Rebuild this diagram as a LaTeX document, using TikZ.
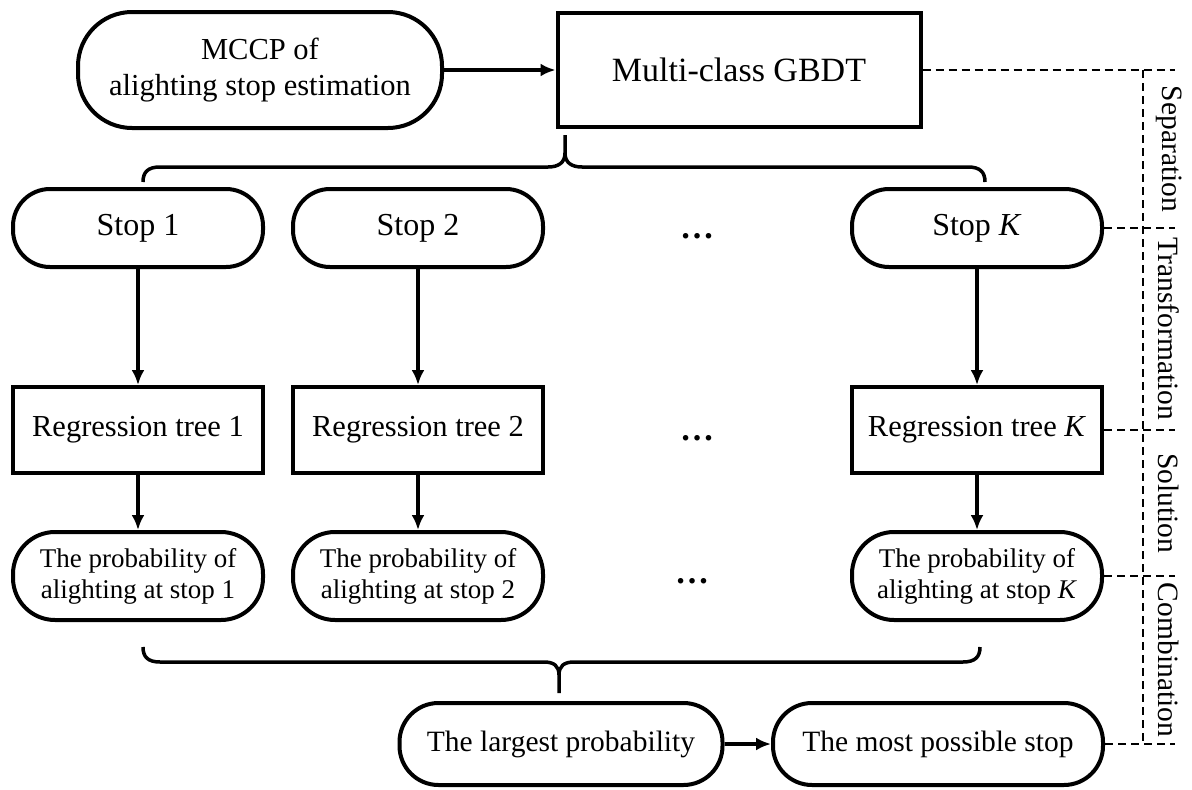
\documentclass[tikz,border=0pt]{standalone}
\usepackage{fontspec}
\setmainfont{Liberation Serif}
\usetikzlibrary{arrows.meta,calc}

\begin{document}
\begin{tikzpicture}[x=1pt,y=-1pt,
  box/.style={draw, line width=4pt, align=center},
  pill/.style={box, rounded corners=#1},
  pill/.default=37pt,
  arr/.style={line width=3.5pt, -{Latex[length=15pt,width=13pt]}},
  sep/.style={line width=2.2pt, dash pattern=on 8pt off 5pt},
  brc/.style={line width=3.5pt},
  phase/.style={rotate=-90, font=\fontsize{29.5}{33}\selectfont}]

\useasboundingbox (0,0) rectangle (1192,790);

\def\xone{138}
\def\xtwo{418}
\def\xk{977}

% top row
\node[pill=54pt, minimum width=364pt, minimum height=116pt,
      font=\fontsize{30.5}{36}\selectfont] (mccp) at (260,70)
      {MCCP of\\alighting stop estimation};
\node[box, minimum width=363pt, minimum height=114pt,
      font=\fontsize{34}{38}\selectfont] (gbdt) at (739,70) {Multi-class GBDT};
\draw[arr] (mccp) -- (gbdt);

% stops
\foreach \n/\x/\t in {1/\xone/1, 2/\xtwo/2, K/\xk/\textit{K}}{
  \node[pill, minimum width=250pt, minimum height=78pt,
        font=\fontsize{32}{36}\selectfont] (s\n) at (\x,228) {Stop \t};
  \node[box, minimum width=250pt, minimum height=86pt,
        font=\fontsize{30.5}{34}\selectfont] (t\n) at (\x,430) {Regression tree \t};
  \node[pill=42pt, minimum width=250pt, minimum height=88pt,
        font=\fontsize{27}{31}\selectfont] (p\n) at (\x,576)
        {The probability of\\alighting at stop \t};
  \draw[arr] (s\n) -- (t\n);
  \draw[arr] (t\n) -- (p\n);
}
\node[font=\fontsize{34}{38}\selectfont\bfseries] (d1) at (697,236) {…};
\node[font=\fontsize{34}{38}\selectfont\bfseries] (d2) at (697,438) {…};
\node[font=\fontsize{34}{38}\selectfont\bfseries] (d3) at (692,581) {…};

% braces
\draw[brc] (143,182) .. controls (143,172) and (148,167) .. (160,167) -- (548,167)
  .. controls (558,167) and (565,163) .. (565,153) -- (565,135);
\draw[brc] (565,153) .. controls (565,163) and (572,167) .. (582,167) -- (968,167)
  .. controls (980,167) and (985,172) .. (985,182);
\draw[brc] (143,647) .. controls (143,657) and (148,662) .. (160,662) -- (544,662)
  .. controls (554,662) and (559,666) .. (559,675) -- (559,693);
\draw[brc] (559,675) .. controls (559,666) and (564,662) .. (574,662) -- (963,662)
  .. controls (975,662) and (980,657) .. (980,647);

% bottom row
\node[pill=39pt, minimum width=323pt, minimum height=82pt,
      font=\fontsize{29.5}{33}\selectfont] (lp) at (561,744) {The largest probability};
\node[pill=39pt, minimum width=330pt, minimum height=82pt,
      font=\fontsize{29.5}{33}\selectfont] (ms) at (938,744) {The most possible stop};
\draw[arr] (lp) -- (ms);

% phases on the right
\coordinate (v) at (1143,0);
\coordinate (e) at (1175,0);
\coordinate (lab) at (1169,0);
\foreach \a in {gbdt, sK, tK, pK, ms}
  \draw[sep] (\a.east) -- (\a.east -| e);
\draw[sep] (gbdt.east -| v) -- (ms.east -| v);
\node[phase] at ($(gbdt.east -| lab)!0.5!(sK.east -| lab)$) {Separation};
\node[phase] at ($(sK.east -| lab)!0.5!(tK.east -| lab)$) {Transformation};
\node[phase] at ($(tK.east -| lab)!0.5!(pK.east -| lab)$) {Solution};
\node[phase] at ($(pK.east -| lab)!0.5!(ms.east -| lab)$) {Combination};

\end{tikzpicture}
\end{document}
